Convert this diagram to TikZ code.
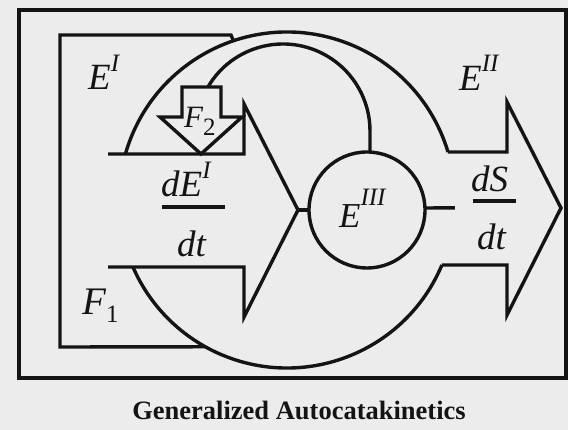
\documentclass[tikz,border=0pt]{standalone}
\usepackage{fontspec}
\setmainfont{Liberation Serif}
\usetikzlibrary{calc}
\definecolor{paper}{gray}{0.925}
\definecolor{ink}{gray}{0.08}
\newcommand{\upidx}[2]{\raisebox{#1}{\fontsize{25}{25}\selectfont\itshape #2}}
\newcommand{\dnidx}[1]{\raisebox{-8pt}{\fontsize{25}{25}\selectfont\upshape #1}}
\begin{document}
\begin{tikzpicture}[x=1pt,y=1pt,
  line/.style={draw=ink,line width=3.4pt,line join=miter,line cap=butt},
  lbl/.style={anchor=base west,inner sep=0pt,text=ink,font=\fontsize{37}{40}\selectfont\itshape},
  caption/.style={anchor=base,inner sep=0pt,text=ink,font=\fontsize{26.5}{29}\selectfont\bfseries},
]
\fill[paper] (0,0) rectangle (568,430);
\useasboundingbox (0,0) rectangle (568,430);
% outer frame
\draw[line,line width=4pt] (19,52) rectangle (566,420);
% key points
\coordinate (C1) at (287,230);   % big circle centre
\coordinate (C3) at (367,220);   % small circle centre
\coordinate (C2) at (283,299);   % inner arc centre
% bracket
\coordinate (brT) at ($(C1)+(108.6:168)$);
\coordinate (brB) at ($(C1)+(240.9:168)$);
\draw[line] (brT) -- (231,395) -- (60,395) -- (60,83) -- (brB);
% big circle, upper and lower parts
\draw[line] ($(C1)+(164.1:168)$) arc[start angle=164.1,end angle=16.6,radius=168];
\draw[line] ($(C1)+(-22.75:168)$) arc[start angle=-22.75,end angle=-156.5,radius=168];
% left input arrow
\coordinate (tipL) at (298,220);
\draw[line] (108,276) -- (244,276) -- (244,326) -- (tipL) -- (244,113) -- (244,163) -- (108,163);
% small circle E III
\draw[line] (C3) circle[radius=58];
\draw[line] (tipL) -- ($(C3)+(180:58)$);
\draw[line] ($(C3)+(2:58)$) -- ($(C1)+(-2.7:168)$);
% inner arc to small circle
\coordinate (iaL) at ($(C2)+(149.6:87)$);
\draw[line] (iaL) arc[start angle=149.6,end angle=0,radius=87] -- (370,277.9);
% output arrow E II
\draw[line] ($(C1)+(16.6:168)$) -- (507,278) -- (507,328) -- (561,222) -- (507,115) -- (507,165) -- ($(C1)+(-22.75:168)$);
% F2 arrow
\draw[line] (182,343) -- (221,343) -- (221,313) -- (242,313) -- (201,276) -- (160,313) -- (182,313) -- cycle;
% fraction bars
\draw[line] (162,223) -- (225,223);
\draw[line] (473,229) -- (516,229);
% labels
\node[lbl] (EI) at (88,340) {E\upidx{18pt}{I}};
\node[lbl,font=\fontsize{31}{34}\selectfont\itshape] (F2) at (184,302) {F\dnidx{2}};
\node[lbl] (dEI) at (161,233) {dE\upidx{18pt}{I}};
\node[lbl] (dt1) at (177,173) {dt};
\node[lbl,font=\fontsize{39}{42}\selectfont\itshape] (F1) at (82,115) {F\dnidx{1}};
\node[lbl] (EII) at (459,339) {E\upidx{19pt}{II}};
\node[lbl] (dS) at (471,238) {dS};
\node[lbl] (dt2) at (477,180) {dt};
\node[lbl,font=\fontsize{35}{38}\selectfont\itshape] (EIII) at (339,202) {E\upidx{22pt}{III}};
\node[caption] (cap) at (299,10) {Generalized Autocatakinetics};
\end{tikzpicture}
\end{document}
